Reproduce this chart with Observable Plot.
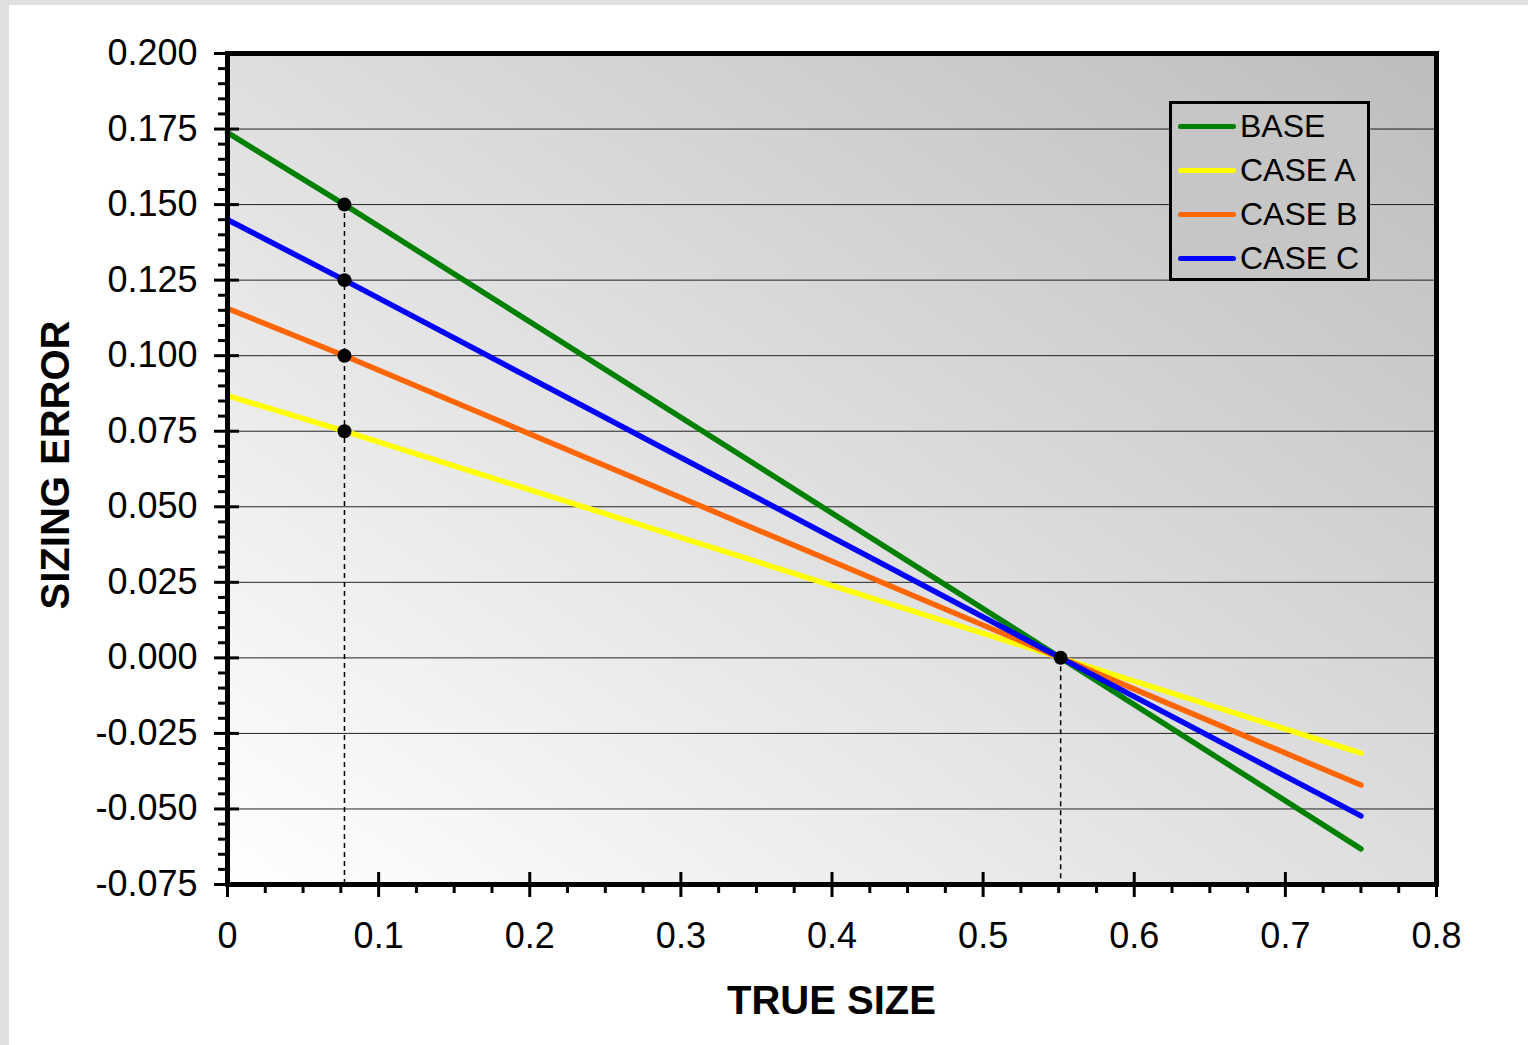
<!DOCTYPE html>
<html>
<head>
<meta charset="utf-8">
<script src="https://cdn.jsdelivr.net/npm/d3@7"></script>
<script src="https://cdn.jsdelivr.net/npm/@observablehq/plot@0.6"></script>
<style>
  html, body { margin: 0; padding: 0; background: #dfdfdf; width: 1528px; height: 1045px; overflow: hidden; }
  #panel { position: absolute; left: 9px; top: 5px; width: 1519px; height: 1040px; background: #ffffff; }
  #chart { position: absolute; left: 0; top: 0; }
  .title { position: absolute; font-family: "Liberation Sans", Arial, sans-serif; font-weight: bold; font-size: 40px; color: #000; white-space: nowrap; }
  #legend { position: absolute; box-sizing: border-box; border: 3px solid #000; background: #c6c6c6;
            font-family: "Liberation Sans", Arial, sans-serif; font-size: 32px; color: #000; }
  .row { position: absolute; left: 0; height: 44px; display: flex; align-items: center; white-space: nowrap; }
  .sw { width: 58px; height: 5px; border-radius: 3px; margin-left: 6px; margin-right: 4px; }
</style>
</head>
<body>
<div id="panel">
  <div id="chart"></div>
  <div class="title" id="xtitle">TRUE SIZE</div>
  <div class="title" id="ytitle">SIZING ERROR</div>
  <div id="legend"></div>
</div>
<script>
// ---- data ----
const seriesNames = ["BASE", "CASE A", "CASE B", "CASE C"];
const seriesColors = ["#008000", "#ffff00", "#ff6600", "#0000ff"];
const trueSize = [0, 0.0774, 0.5513, 0.75];
const baseErr  = [0.1738, 0.150, 0.000, -0.0632];
const caseAErr = [0.0868, 0.075, 0.000, -0.0315];
const caseBErr = [0.1156, 0.100, 0.000, -0.0421];
const caseCErr = [0.1450, 0.125, 0.000, -0.0523];
const markX = [0.0774, 0.0774, 0.0774, 0.0774, 0.5513];
const markY = [0.150, 0.125, 0.100, 0.075, 0.000];
const dropX = [0.0774, 0.5513];
const dropTop = [0.150, 0.000];
const xTicks = [0, 0.1, 0.2, 0.3, 0.4, 0.5, 0.6, 0.7, 0.8];
const yTicks = [-0.075, -0.05, -0.025, 0, 0.025, 0.05, 0.075, 0.1, 0.125, 0.15, 0.175, 0.2];
const xDomain = [0, 0.8];
const yDomain = [-0.075, 0.2];

// ---- build ----
const allSeries = [baseErr, caseAErr, caseBErr, caseCErr];
const rows = [];
allSeries.forEach((vals, s) => vals.forEach((v, i) => rows.push({series: seriesNames[s], x: trueSize[i], y: v})));
const points = markX.map((x, i) => ({x, y: markY[i]}));
const drops = dropX.map((x, i) => ({x, y1: dropTop[i], y2: yDomain[0]}));

const isMajor = (v, step) => Math.abs(Math.round(v / step) * step - v) < 1e-9;
const xMinor = d3.range(0, 32).map(i => i * 0.025).filter(v => !isMajor(v, 0.1) && v <= 0.8 + 1e-9);
const yMinor = d3.range(0, 56).map(i => -0.075 + i * 0.005).filter(v => !isMajor(v, 0.025) && v <= 0.2 + 1e-9);

const W = 1519, H = 1040;
const mL = 218, mT = 48, mR = 92, mB = 161;

const svg = Plot.plot({
  width: W, height: H,
  marginLeft: mL, marginTop: mT, marginRight: mR, marginBottom: mB,
  style: {fontFamily: '"Liberation Sans", Arial, sans-serif', color: "#000", background: "transparent", overflow: "visible"},
  x: {domain: xDomain},
  y: {domain: yDomain},
  color: {domain: seriesNames, range: seriesColors},
  marks: [
    Plot.frame({fill: "url(#bgGrad)", stroke: "none"}),
    Plot.gridY(yTicks, {stroke: "#000", strokeOpacity: 0.85, strokeWidth: 1}),
    Plot.ruleX(drops, {x: "x", y1: "y1", y2: "y2", stroke: "#000", strokeWidth: 1.5, strokeDasharray: "5,4"}),
    Plot.line(rows, {x: "x", y: "y", z: "series", stroke: "series", strokeWidth: 5.5, strokeLinecap: "round", strokeLinejoin: "round"}),
    Plot.dot(points, {x: "x", y: "y", r: 7, fill: "#000", stroke: "none"}),
    Plot.frame({stroke: "#000", strokeWidth: 5}),
    Plot.axisY(yMinor, {anchor: "left", tickSize: 9, strokeWidth: 3, tickFormat: () => "", label: null}),
    Plot.axisY(yTicks, {anchor: "left", tickSize: 25, dx: 12, tickPadding: 17, strokeWidth: 3, fontSize: 36,
                        tickFormat: d => d.toFixed(3), label: null}),
    Plot.axisX(xMinor, {anchor: "bottom", tickSize: 9, strokeWidth: 3, tickFormat: () => "", label: null}),
    Plot.axisX(xTicks, {anchor: "bottom", tickSize: 25, dy: -12, tickPadding: 25, strokeWidth: 3, fontSize: 36,
                        tickFormat: d => String(d), label: null})
  ]
});

// gradient definition for the plot area
const ns = "http://www.w3.org/2000/svg";
const defs = document.createElementNS(ns, "defs");
const grad = document.createElementNS(ns, "linearGradient");
grad.setAttribute("id", "bgGrad");
grad.setAttribute("x1", "0"); grad.setAttribute("y1", "1");
grad.setAttribute("x2", "1"); grad.setAttribute("y2", "0");
[["0", "#ffffff"], ["1", "#bdbdbd"]].forEach(([o, c]) => {
  const st = document.createElementNS(ns, "stop");
  st.setAttribute("offset", o); st.setAttribute("stop-color", c);
  grad.appendChild(st);
});
defs.appendChild(grad);
svg.insertBefore(defs, svg.firstChild);
document.getElementById("chart").appendChild(svg);

// titles
const plotL = mL, plotR = W - mR, plotT = mT, plotB = H - mB;
const xt = document.getElementById("xtitle");
xt.style.left = ((plotL + plotR) / 2) + "px";
xt.style.top = (plotB + 94) + "px";
xt.style.transform = "translate(-50%, 0)";
const yt = document.getElementById("ytitle");
yt.style.left = "46px";
yt.style.top = ((plotT + plotB) / 2 - 4) + "px";
yt.style.transform = "translate(-50%, -50%) rotate(-90deg)";

// legend
const lg = document.getElementById("legend");
lg.style.left = (plotL + 942) + "px";
lg.style.top = (plotT + 48) + "px";
lg.style.width = "201px";
lg.style.height = "180px";
seriesNames.forEach((n, i) => {
  const r = document.createElement("div");
  r.className = "row";
  r.style.top = (i * 44.3) + "px";
  const sw = document.createElement("div");
  sw.className = "sw";
  sw.style.background = seriesColors[i];
  const t = document.createElement("span");
  t.textContent = n;
  r.appendChild(sw); r.appendChild(t);
  lg.appendChild(r);
});
</script>
</body>
</html>
